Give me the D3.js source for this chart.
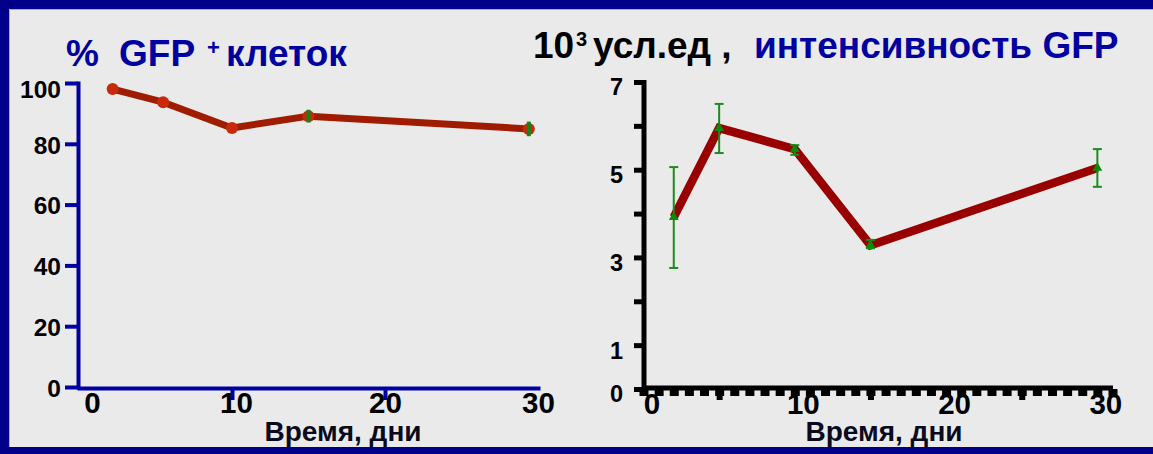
<!DOCTYPE html>
<html><head><meta charset="utf-8">
<script src="https://cdn.jsdelivr.net/npm/d3@7"></script>
<style>
html,body{margin:0;padding:0;background:#EAEAEA;overflow:hidden}
svg{display:block}
text{font-family:"Liberation Sans",Arial,sans-serif;font-weight:bold}
</style>
</head><body>
<svg id="c" width="1153" height="454"></svg>
<script>
// ---- data ----
const leftDays = [2.2, 5.5, 10, 15, 29.4];
const leftValues = [98.0, 93.7, 85.2, 89.1, 84.9];
const leftErrors = [0, 0, 0, 2.1, 2.4];
const rightDays = [2, 5, 10, 15, 30];
const rightValues = [3.92, 5.95, 5.47, 3.28, 5.04];
const rightErrLow = [2.76, 5.38, 5.34, 3.21, 4.61];
const rightErrHigh = [5.06, 6.50, 5.56, 3.40, 5.47];
const leftYTicks = [0, 20, 40, 60, 80, 100];
const xTicks = [0, 10, 20, 30];
const rightYTicks = [0, 1, 2, 3, 4, 5, 6, 7];
const rightYLabels = [0, 1, 3, 5, 7];
const rightMinorX = d3.range(0, 32);
const rightMidX = [5, 15, 25];

const svg = d3.select("#c");
const NAVY = "#00008B", BLUE = "#0000A0";

// frame
svg.append("rect").attr("width", 1153).attr("height", 454).attr("fill", NAVY);
svg.append("rect").attr("x", 9).attr("y", 9).attr("width", 1144).attr("height", 438).attr("fill", "#EAEAEA");
svg.append("path").attr("d", "M9.5,447V9.5H1153").attr("fill", "none").attr("stroke", "#A8A8D0").attr("stroke-width", 1);

// ---------- LEFT CHART ----------
const xL = d3.scaleLinear().domain([0, 30]).range([79, 538]);
const yL = d3.scaleLinear().domain([0, 100]).range([387, 83]);

const gyL = svg.append("g").attr("transform", "translate(78,0)")
  .call(d3.axisLeft(yL).tickValues(leftYTicks).tickSize(13).tickSizeOuter(0).tickPadding(4));
gyL.select(".domain").attr("stroke", BLUE).attr("stroke-width", 4).attr("stroke-linecap", "square");
gyL.selectAll(".tick line").attr("stroke", BLUE).attr("stroke-width", 4);
gyL.selectAll(".tick text").attr("font-size", 24.5).attr("fill", "#000")
  .attr("dy", d => d === 100 ? "0.58em" : "0.38em");

const gxL = svg.append("g").attr("transform", "translate(0,388)")
  .call(d3.axisBottom(xL).tickValues(xTicks).tickSize(12).tickSizeOuter(0));
gxL.select(".domain").attr("stroke", BLUE).attr("stroke-width", 4).attr("stroke-linecap", "square");
gxL.selectAll(".tick line").attr("stroke", BLUE).attr("stroke-width", 4)
  .attr("opacity", d => (d === 0 || d === 30) ? 0 : 1);
gxL.selectAll(".tick text").attr("font-size", 29.5).attr("fill", "#000").attr("y", 4)
  .attr("dx", d => d === 0 ? 13 : (d === 10 ? 4 : 0));

svg.append("path")
  .datum(leftDays.map((d, i) => [d, leftValues[i]]))
  .attr("fill", "none").attr("stroke", "#A01C00").attr("stroke-width", 7)
  .attr("stroke-linejoin", "round")
  .attr("d", d3.line().x(d => xL(d[0])).y(d => yL(d[1])));

svg.append("g").selectAll("circle").data(leftDays).join("circle")
  .attr("cx", d => xL(d)).attr("cy", (d, i) => yL(leftValues[i])).attr("r", 6)
  .attr("fill", "#C8290A");

svg.append("g").selectAll("line").data(leftDays.filter((d, i) => leftErrors[i] > 0)).join("line")
  .each(function (d) {
    const i = leftDays.indexOf(d);
    d3.select(this).attr("x1", xL(d)).attr("x2", xL(d))
      .attr("y1", yL(leftValues[i] - leftErrors[i])).attr("y2", yL(leftValues[i] + leftErrors[i]));
  })
  .attr("stroke", "#12851A").attr("stroke-width", 4);

// left titles
svg.append("text").attr("x", 66).attr("y", 66).attr("font-size", 37).attr("fill", BLUE).text("%");
svg.append("text").attr("x", 119).attr("y", 66).attr("font-size", 37).attr("fill", BLUE).text("GFP");
svg.append("text").attr("x", 207).attr("y", 55).attr("font-size", 22).attr("fill", BLUE).text("+");
svg.append("text").attr("x", 226).attr("y", 66).attr("font-size", 37).attr("fill", BLUE).text("клеток");
svg.append("text").attr("x", 343).attr("y", 441).attr("font-size", 28).attr("fill", "#0a0a1e")
  .attr("text-anchor", "middle").text("Время, дни");

// ---------- RIGHT CHART ----------
const xR = d3.scaleLinear().domain([0, 31]).range([643.5, 1112.5]);
const yR = d3.scaleLinear().domain([0, 7]).range([389, 82]);

// minor x ticks (dashed look)
const gxm = svg.append("g").attr("transform", "translate(0,389)")
  .call(d3.axisBottom(xR).tickValues(rightMinorX).tickSize(7).tickFormat(""));
gxm.select(".domain").remove();
gxm.selectAll(".tick line").attr("stroke", "#000").attr("stroke-width", 9);
const gxm2 = svg.append("g").attr("transform", "translate(0,389)")
  .call(d3.axisBottom(xR).tickValues(rightMidX).tickSize(11).tickFormat(""));
gxm2.select(".domain").remove();
gxm2.selectAll(".tick line").attr("stroke", "#000").attr("stroke-width", 6);

const gxR = svg.append("g").attr("transform", "translate(0,387.5)")
  .call(d3.axisBottom(xR).tickValues(xTicks).tickSize(0).tickSizeOuter(0));
gxR.select(".domain").attr("stroke", "#000").attr("stroke-width", 5);
gxR.selectAll(".tick text").attr("font-size", 29.5).attr("fill", "#000").attr("y", 6).attr("dx", 8);

const gyR = svg.append("g").attr("transform", "translate(643.5,0)")
  .call(d3.axisLeft(yR).tickValues(rightYTicks).tickSize(9.5).tickSizeOuter(0).tickPadding(11)
    .tickFormat(d => rightYLabels.includes(d) ? d : ""));
gyR.select(".domain").attr("stroke", "#000").attr("stroke-width", 5).attr("stroke-linecap", "square");
gyR.selectAll(".tick line").attr("stroke", "#000").attr("stroke-width", 5);
gyR.selectAll(".tick text").attr("font-size", 23.5).attr("fill", "#000").attr("dy", "0.55em");

svg.append("path")
  .datum(rightDays.map((d, i) => [d, rightValues[i]]))
  .attr("fill", "none").attr("stroke", "#990000").attr("stroke-width", 8.5)
  .attr("stroke-linejoin", "miter")
  .attr("d", d3.line().x(d => xR(d[0])).y(d => yR(d[1])));

const eb = svg.append("g").attr("stroke", "#1A8C1A").attr("stroke-width", 2).attr("fill", "none");
rightDays.forEach((d, i) => {
  const cx = xR(d), lo = yR(rightErrLow[i]), hi = yR(rightErrHigh[i]);
  eb.append("line").attr("x1", cx).attr("x2", cx).attr("y1", lo).attr("y2", hi);
  eb.append("line").attr("x1", cx - 4.5).attr("x2", cx + 4.5).attr("y1", lo).attr("y2", lo);
  eb.append("line").attr("x1", cx - 4.5).attr("x2", cx + 4.5).attr("y1", hi).attr("y2", hi);
});

svg.append("g").selectAll("path").data(rightDays).join("path")
  .attr("transform", (d, i) => `translate(${xR(d)},${yR(rightValues[i])})`)
  .attr("d", d3.symbol(d3.symbolTriangle).size(42))
  .attr("fill", "#0A8A0A");

// right titles
svg.append("text").attr("x", 533).attr("y", 58).attr("font-size", 37).attr("fill", "#000").text("10");
svg.append("text").attr("x", 576).attr("y", 46).attr("font-size", 20).attr("fill", "#000").text("3");
svg.append("text").attr("x", 593).attr("y", 58).attr("font-size", 37).attr("fill", "#000").text("усл.ед ,");
svg.append("text").attr("x", 754).attr("y", 58).attr("font-size", 37).attr("fill", BLUE).text("интенсивность GFP");
svg.append("text").attr("x", 884).attr("y", 441).attr("font-size", 28).attr("fill", "#0a0a1e")
  .attr("text-anchor", "middle").text("Время, дни");
</script>
</body></html>
